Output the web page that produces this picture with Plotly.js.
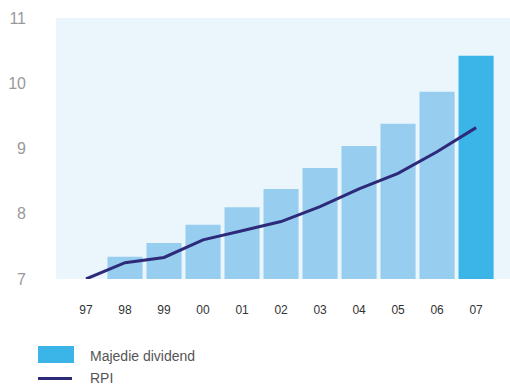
<!DOCTYPE html>
<html><head><meta charset="utf-8">
<script src="https://cdn.plot.ly/plotly-3.0.1.min.js"></script>
<style>html,body{margin:0;padding:0;background:#fff}#chart{width:510px;height:385px}</style>
</head><body><div id="chart"></div>
<script>
const years = ["97","98","99","00","01","02","03","04","05","06","07"];
const dividend = [null,7.34,7.55,7.83,8.10,8.38,8.70,9.04,9.38,9.87,10.42];
const rpi = [7.00,7.25,7.33,7.60,7.74,7.88,8.11,8.38,8.62,8.95,9.32];
const yTicks = [7,8,9,10,11];

const barColors = years.map((y,i)=> i===years.length-1 ? '#3bb5e8' : '#97cef0');

const PL = 56, PT = 18, PW = 454, PH = 261;
const px = x => (x-PL)/PW;
const py = y => (PT+PH-y)/PH;

const data = [
  {type:'bar', x:years, y:dividend, marker:{color:barColors}, showlegend:false, hoverinfo:'none'},
  {type:'scatter', mode:'lines', x:years, y:rpi, line:{color:'#2e2a7a', width:3}, showlegend:false, hoverinfo:'none'}
];

const layout = {
  width:510, height:385,
  margin:{l:PL, r:0, t:PT, b:385-PT-PH},
  paper_bgcolor:'#ffffff',
  plot_bgcolor:'#eaf5fc',
  bargap:0.1,
  font:{family:'Liberation Sans, Arial, sans-serif'},
  xaxis:{type:'category', range:[-0.77,10.87], showgrid:false, zeroline:false, showline:false,
         ticks:'', ticklabelstandoff:22, tickfont:{size:12, color:'#333333'}},
  yaxis:{range:[7,11], tickvals:yTicks, showgrid:false, zeroline:false, showline:false,
         ticks:'', ticklabelstandoff:29, tickfont:{size:16, color:'#999999'}},
  shapes:[
    {type:'rect', xref:'paper', yref:'paper', x0:px(38), x1:px(74), y0:py(346), y1:py(363),
     fillcolor:'#3bb5e8', line:{width:0}},
    {type:'line', xref:'paper', yref:'paper', x0:px(38), x1:px(72), y0:py(378.5), y1:py(378.5),
     line:{color:'#2e2a7a', width:3}}
  ],
  annotations:[
    {xref:'paper', yref:'paper', x:px(88), y:py(356), xanchor:'left', yanchor:'middle', showarrow:false,
     text:'Majedie dividend', font:{size:14, color:'#555555'}},
    {xref:'paper', yref:'paper', x:px(88), y:py(378), xanchor:'left', yanchor:'middle', showarrow:false,
     text:'RPI', font:{size:14, color:'#555555'}}
  ]
};
Plotly.newPlot('chart', data, layout, {displayModeBar:false, staticPlot:true});
</script></body></html>
